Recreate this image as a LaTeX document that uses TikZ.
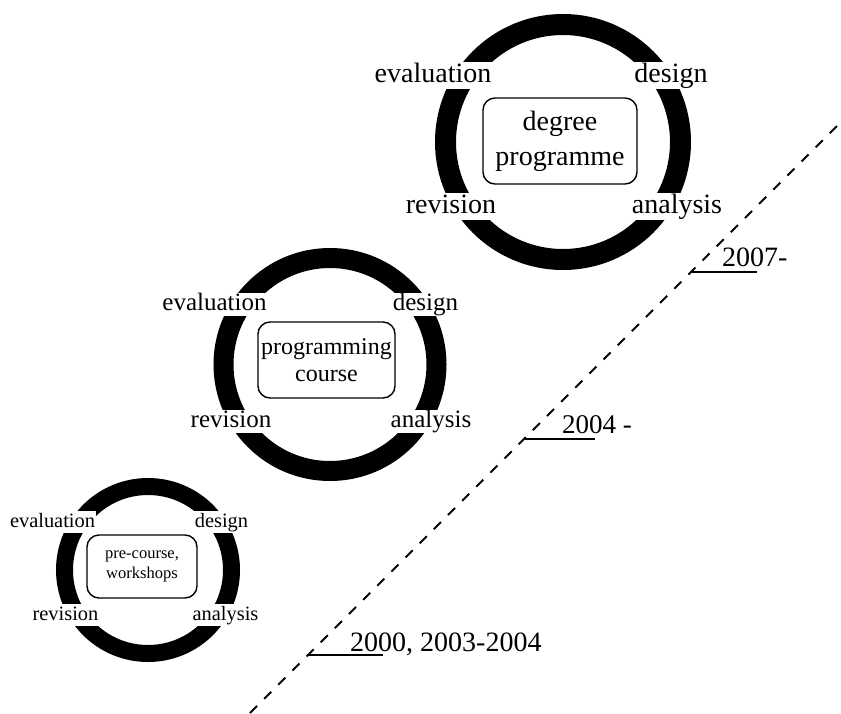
\documentclass[tikz,border=0pt]{standalone}
\usepackage{fontspec}
\setmainfont{Liberation Serif}
\begin{document}
\begin{tikzpicture}[x=1pt,y=-1pt,
  cyclering/.style={draw=black, fill=none},
  hub/.style={draw=black, rounded corners=12pt, line width=1.4pt, align=center, inner sep=0pt},
  phaseL/.style={fill=white, anchor=base, inner xsep=1pt, inner ysep=0pt,
                 text height=20pt, text depth=6.5pt, font=\fontsize{28}{34}\selectfont},
  phaseM/.style={fill=white, anchor=base, inner xsep=1pt, inner ysep=0pt,
                 text height=17.5pt, text depth=5.5pt, font=\fontsize{25}{30}\selectfont},
  phaseS/.style={fill=white, anchor=base, inner xsep=1pt, inner ysep=0pt,
                 text height=16.5pt, text depth=6pt, font=\fontsize{20.4}{24}\selectfont},
  timeline/.style={line width=1.9pt, dash pattern=on 10pt off 10pt},
  yearmark/.style={line width=1.4pt},
  yeartext/.style={anchor=base west, inner sep=0pt}
]
\useasboundingbox (0,0) rectangle (841,713);

% time axis
\coordinate (axisStart) at (250,713);
\coordinate (axisEnd) at (837,126);
\draw[timeline] (axisStart) -- (axisEnd);

% --- degree programme cycle ---
\coordinate (cL) at (563,142);
\draw[cyclering, line width=21pt] (cL) circle[radius=117.5];
\node[hub, minimum width=154pt, minimum height=86pt,
      font=\fontsize{28}{35}\selectfont] (hubL) at (560,141) {degree\\programme};
\node[phaseL] (evalL) at (433,82) {evaluation};
\node[phaseL] (desL) at (671,82) {design};
\node[phaseL] (revL) at (451,213) {revision};
\node[phaseL] (anaL) at (677,213) {analysis};

% --- programming course cycle ---
\coordinate (cM) at (330,364.5);
\draw[cyclering, line width=20pt] (cM) circle[radius=106.5];
\node[hub, minimum width=137pt, minimum height=76pt,
      font=\fontsize{24}{27}\selectfont] (hubM) at (326.5,360) {programming\\course};
\node[phaseM] (evalM) at (214.5,310) {evaluation};
\node[phaseM] (desM) at (425.5,310) {design};
\node[phaseM] (revM) at (231,427) {revision};
\node[phaseM] (anaM) at (431,427) {analysis};

% --- pre-course cycle ---
\coordinate (cS) at (148,570);
\draw[cyclering, line width=17pt] (cS) circle[radius=83.5];
\node[hub, minimum width=110pt, minimum height=63pt,
      font=\fontsize{16.5}{20}\selectfont] (hubS) at (142,566.5) {pre-course,\\workshops};
\node[phaseS] (evalS) at (52.5,527) {evaluation};
\node[phaseS] (desS) at (221.5,527) {design};
\node[phaseS] (revS) at (65.5,620) {revision};
\node[phaseS] (anaS) at (225.5,620) {analysis};

% --- year marks on the time axis ---
\coordinate (m7a) at (692,272);
\coordinate (m7b) at (757,272);
\draw[yearmark] (m7a) -- (m7b);
\node[yeartext, font=\fontsize{28}{34}\selectfont] (y7) at (722,266) {2007-};

\coordinate (m4a) at (525,439);
\coordinate (m4b) at (595,439);
\draw[yearmark] (m4a) -- (m4b);
\node[yeartext, font=\fontsize{27}{32}\selectfont] (y4) at (562,433) {2004 -};

\coordinate (m0a) at (307,655);
\coordinate (m0b) at (383,655);
\draw[yearmark] (m0a) -- (m0b);
\node[yeartext, font=\fontsize{28}{34}\selectfont] (y0) at (350,651) {2000, 2003-2004};
\end{tikzpicture}
\end{document}
